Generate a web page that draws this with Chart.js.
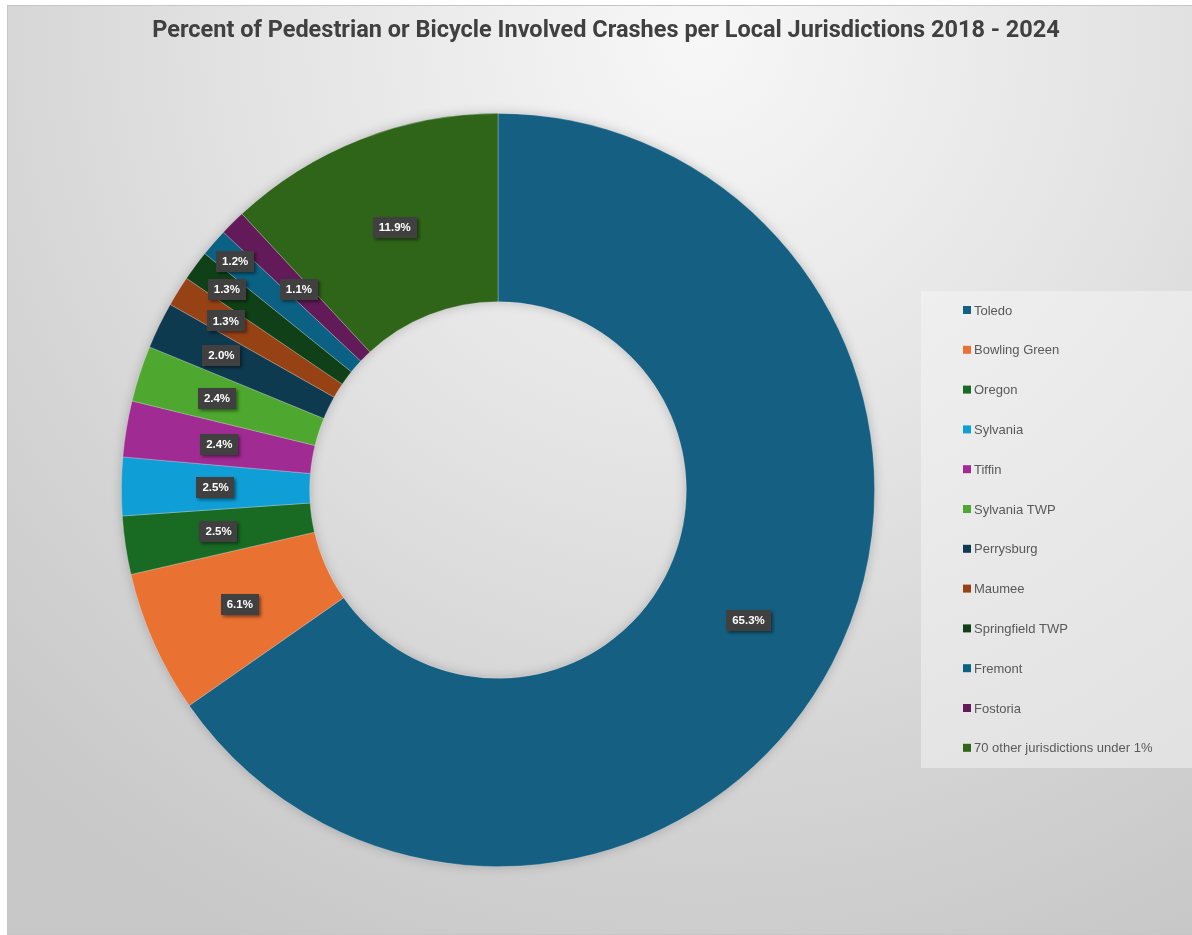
<!DOCTYPE html>
<html>
<head>
<meta charset="utf-8">
<script src="https://cdn.jsdelivr.net/npm/chart.js@4.4.1/dist/chart.umd.min.js"></script>
<style>
html, body { margin: 0; padding: 0; background: #fff; }
#wrap { position: relative; width: 1192px; height: 935px; }
</style>
</head>
<body>
<div id="wrap"><canvas id="donutChart"></canvas></div>
<script>
var jurisdictions = ['Toledo', 'Bowling Green', 'Oregon', 'Sylvania', 'Tiffin', 'Sylvania TWP',
  'Perrysburg', 'Maumee', 'Springfield TWP', 'Fremont', 'Fostoria', '70 other jurisdictions under 1%'];
var crashPercent = [65.3, 6.1, 2.5, 2.5, 2.4, 2.4, 2.0, 1.3, 1.3, 1.2, 1.1, 11.9];
var sliceColors = ['#156082', '#e97132', '#196b24', '#0f9ed5', '#a02b93', '#4ea72e',
  '#0e3a50', '#974215', '#0f4017', '#0b6184', '#621a58', '#2f6519'];
var chartTitle = 'Percent of Pedestrian or Bicycle Involved Crashes per Local Jurisdictions 2018 - 2024';

// small slices: push their label outward so they don't sit on top of each other
var labelPush = [0, 0, 0, 0, 0, 13, 25, 38, 55, 66, 0, 0];

// background panel, title and legend
var frame = {
  id: 'frame',
  beforeDraw: function (chart) {
    var ctx = chart.ctx;
    ctx.save();
    ctx.fillStyle = '#ffffff';
    ctx.fillRect(0, 0, chart.width, chart.height);
    var g = ctx.createRadialGradient(700, 40, 0, 700, 40, 1000);
    g.addColorStop(0, '#f7f7f7');
    g.addColorStop(0.45, '#e3e3e3');
    g.addColorStop(0.7, '#d6d6d6');
    g.addColorStop(1, '#c8c8c8');
    ctx.fillStyle = g;
    ctx.fillRect(7, 5, 1185, 929);
    ctx.strokeStyle = '#c6c6c6';
    ctx.lineWidth = 1;
    ctx.strokeRect(7.5, 5.5, 1190, 929);
    ctx.restore();
  },
  beforeDatasetsDraw: function (chart) {
    // soft shadow around the ring
    var arc = chart.getDatasetMeta(0).data[0];
    var ctx = chart.ctx;
    ctx.save();
    ctx.shadowColor = 'rgba(0,0,0,0.25)';
    ctx.shadowBlur = 12;
    ctx.fillStyle = '#888';
    ctx.beginPath();
    ctx.arc(arc.x, arc.y, arc.outerRadius - 1, 0, Math.PI * 2);
    ctx.arc(arc.x, arc.y, arc.innerRadius + 1, Math.PI * 2, 0, true);
    ctx.fill();
    ctx.restore();
  },
  afterDraw: function (chart) {
    var ctx = chart.ctx;
    ctx.save();
    ctx.fillStyle = '#404040';
    ctx.font = 'bold 23.5px Roboto';
    ctx.textAlign = 'center';
    ctx.textBaseline = 'middle';
    ctx.fillText(chartTitle, 606, 31);

    // legend
    ctx.fillStyle = 'rgba(245,245,245,0.5)';
    ctx.fillRect(921, 291, 271, 477);
    ctx.font = '13px "Liberation Sans"';
    ctx.textAlign = 'left';
    for (var i = 0; i < jurisdictions.length; i++) {
      var y = 310 + i * 39.8;
      ctx.fillStyle = sliceColors[i];
      ctx.fillRect(963, y - 4, 8, 8);
      ctx.fillStyle = '#595959';
      ctx.fillText(jurisdictions[i], 974, y + 1);
    }
    ctx.restore();
  }
};

// dark value boxes on the slices
var valueLabels = {
  id: 'valueLabels',
  afterDatasetsDraw: function (chart) {
    var ctx = chart.ctx;
    var meta = chart.getDatasetMeta(0);
    ctx.save();
    ctx.font = 'bold 11.5px "Liberation Sans"';
    ctx.textAlign = 'center';
    ctx.textBaseline = 'middle';
    meta.data.forEach(function (arc, i) {
      var mid = (arc.startAngle + arc.endAngle) / 2;
      var r = (arc.innerRadius + arc.outerRadius) / 2 + labelPush[i];
      var x = arc.x + Math.cos(mid) * r;
      var y = arc.y + Math.sin(mid) * r;
      var txt = crashPercent[i].toFixed(1) + '%';
      var w = ctx.measureText(txt).width + 12;
      var h = 21;
      ctx.shadowColor = 'rgba(0,0,0,0.45)';
      ctx.shadowBlur = 3;
      ctx.shadowOffsetX = 2;
      ctx.shadowOffsetY = 2;
      ctx.fillStyle = '#404040';
      ctx.fillRect(Math.round(x - w / 2), Math.round(y - h / 2), Math.round(w), h);
      ctx.shadowColor = 'transparent';
      ctx.fillStyle = '#ffffff';
      ctx.fillText(txt, x, y + 0.5);
    });
    ctx.restore();
  }
};

var donutChart = new Chart(document.getElementById('donutChart'), {
  type: 'doughnut',
  data: {
    labels: jurisdictions,
    datasets: [{
      data: crashPercent,
      backgroundColor: sliceColors,
      borderColor: 'rgba(255,255,255,0.35)',
      borderWidth: 0.75
    }]
  },
  options: {
    responsive: true,
    maintainAspectRatio: false,
    animation: false,
    cutout: '50%',
    layout: { padding: { left: 121, right: 317, top: 113, bottom: 68 } },
    plugins: {
      legend: { display: false },
      title: { display: false },
      tooltip: { enabled: false }
    }
  },
  plugins: [frame, valueLabels]
});
</script>
</body>
</html>
